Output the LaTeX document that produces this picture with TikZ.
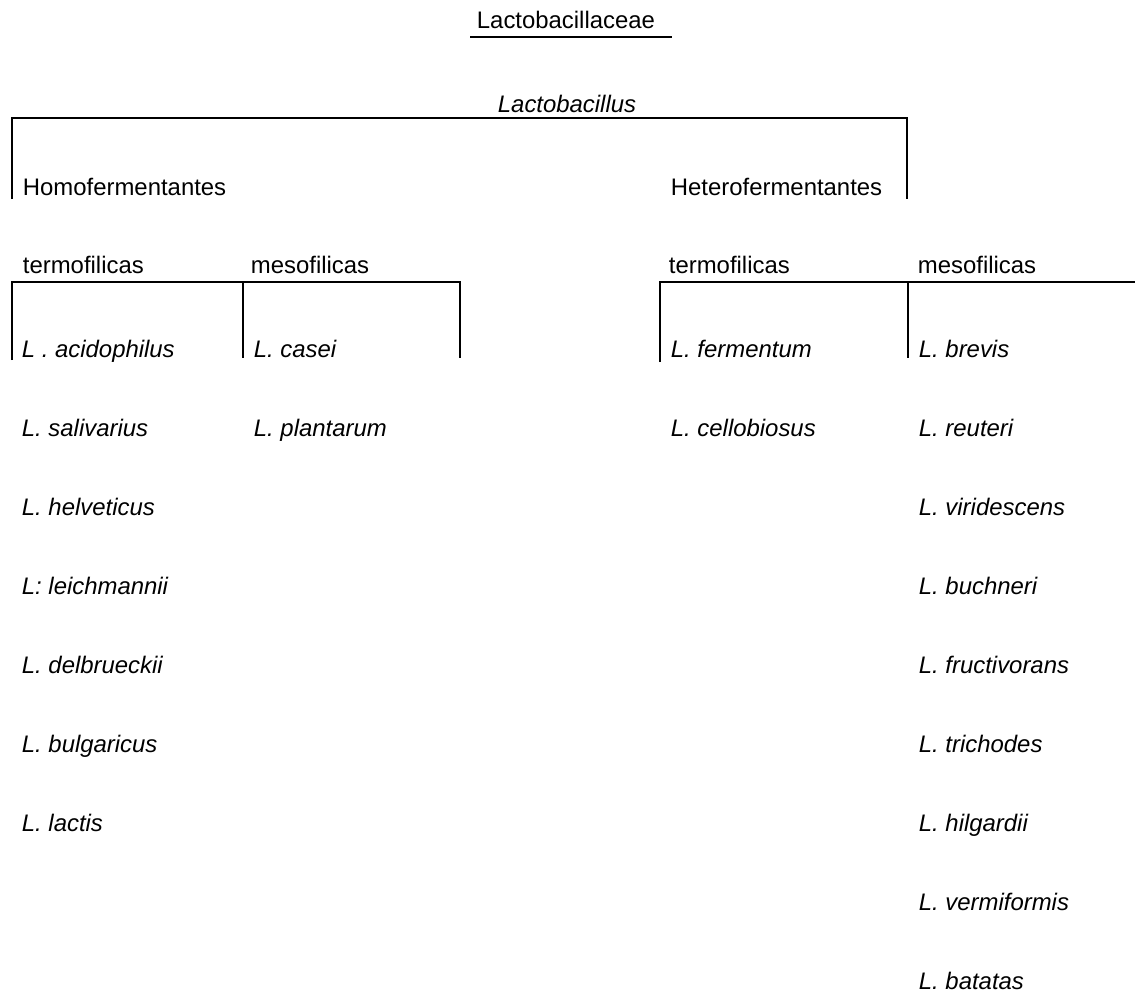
\documentclass[tikz,border=0pt]{standalone}
\usepackage{fontspec}
\setmainfont{Liberation Sans}

\begin{document}
\begin{tikzpicture}[x=0.025cm, y=-0.025cm, line width=1.3pt,
  every node/.style={anchor=base west, inner sep=0pt, font=\fontsize{17}{19}\selectfont},
  sp/.style={font=\fontsize{17}{19}\selectfont\itshape}]
  \useasboundingbox (0,0) rectangle (1135,995);

  \node (fam) at (476,28) {Lactobacillaceae};
  \draw (470,37) -- (672,37);

  \node[sp] (gen) at (497,112) {Lactobacillus};
  \node (homo) at (22,195) {Homofermentantes};
  \node (hetero) at (670,195) {Heterofermentantes};

  \coordinate (gl) at (12,118);
  \coordinate (gr) at (907,118);
  \draw (12,199) -- (gl) -- (gr) -- (907,199);

  \node (homot) at (22,273) {termofilicas};
  \node (homom) at (250,273) {mesofilicas};
  \node (hett) at (668,273) {termofilicas};
  \node (hetm) at (917,273) {mesofilicas};

  \coordinate (a) at (12,282);
  \coordinate (b) at (243,282);
  \coordinate (c) at (460,282);
  \draw (12,360) -- (a) -- (c) -- (460,358);
  \draw (b) -- (243,358);

  \coordinate (d) at (660,282);
  \coordinate (e) at (908,282);
  \coordinate (f) at (1135,282);
  \draw (660,362) -- (d) -- (f);
  \draw (e) -- (908,358);

  \node[sp] (a1) at (21,357) {L . acidophilus};
  \node[sp] (a2) at (21,436) {L. salivarius};
  \node[sp] (a3) at (21,515) {L. helveticus};
  \node[sp] (a4) at (21,594) {L: leichmannii};
  \node[sp] (a5) at (21,673) {L. delbrueckii};
  \node[sp] (a6) at (21,752) {L. bulgaricus};
  \node[sp] (a7) at (21,831) {L. lactis};

  \node[sp] (b1) at (253,357) {L. casei};
  \node[sp] (b2) at (253,436) {L. plantarum};

  \node[sp] (c1) at (670,357) {L. fermentum};
  \node[sp] (c2) at (670,436) {L. cellobiosus};

  \node[sp] (d1) at (918,357) {L. brevis};
  \node[sp] (d2) at (918,436) {L. reuteri};
  \node[sp] (d3) at (918,515) {L. viridescens};
  \node[sp] (d4) at (918,594) {L. buchneri};
  \node[sp] (d5) at (918,673) {L. fructivorans};
  \node[sp] (d6) at (918,752) {L. trichodes};
  \node[sp] (d7) at (918,831) {L. hilgardii};
  \node[sp] (d8) at (918,910) {L. vermiformis};
  \node[sp] (d9) at (918,989) {L. batatas};

\end{tikzpicture}
\end{document}
